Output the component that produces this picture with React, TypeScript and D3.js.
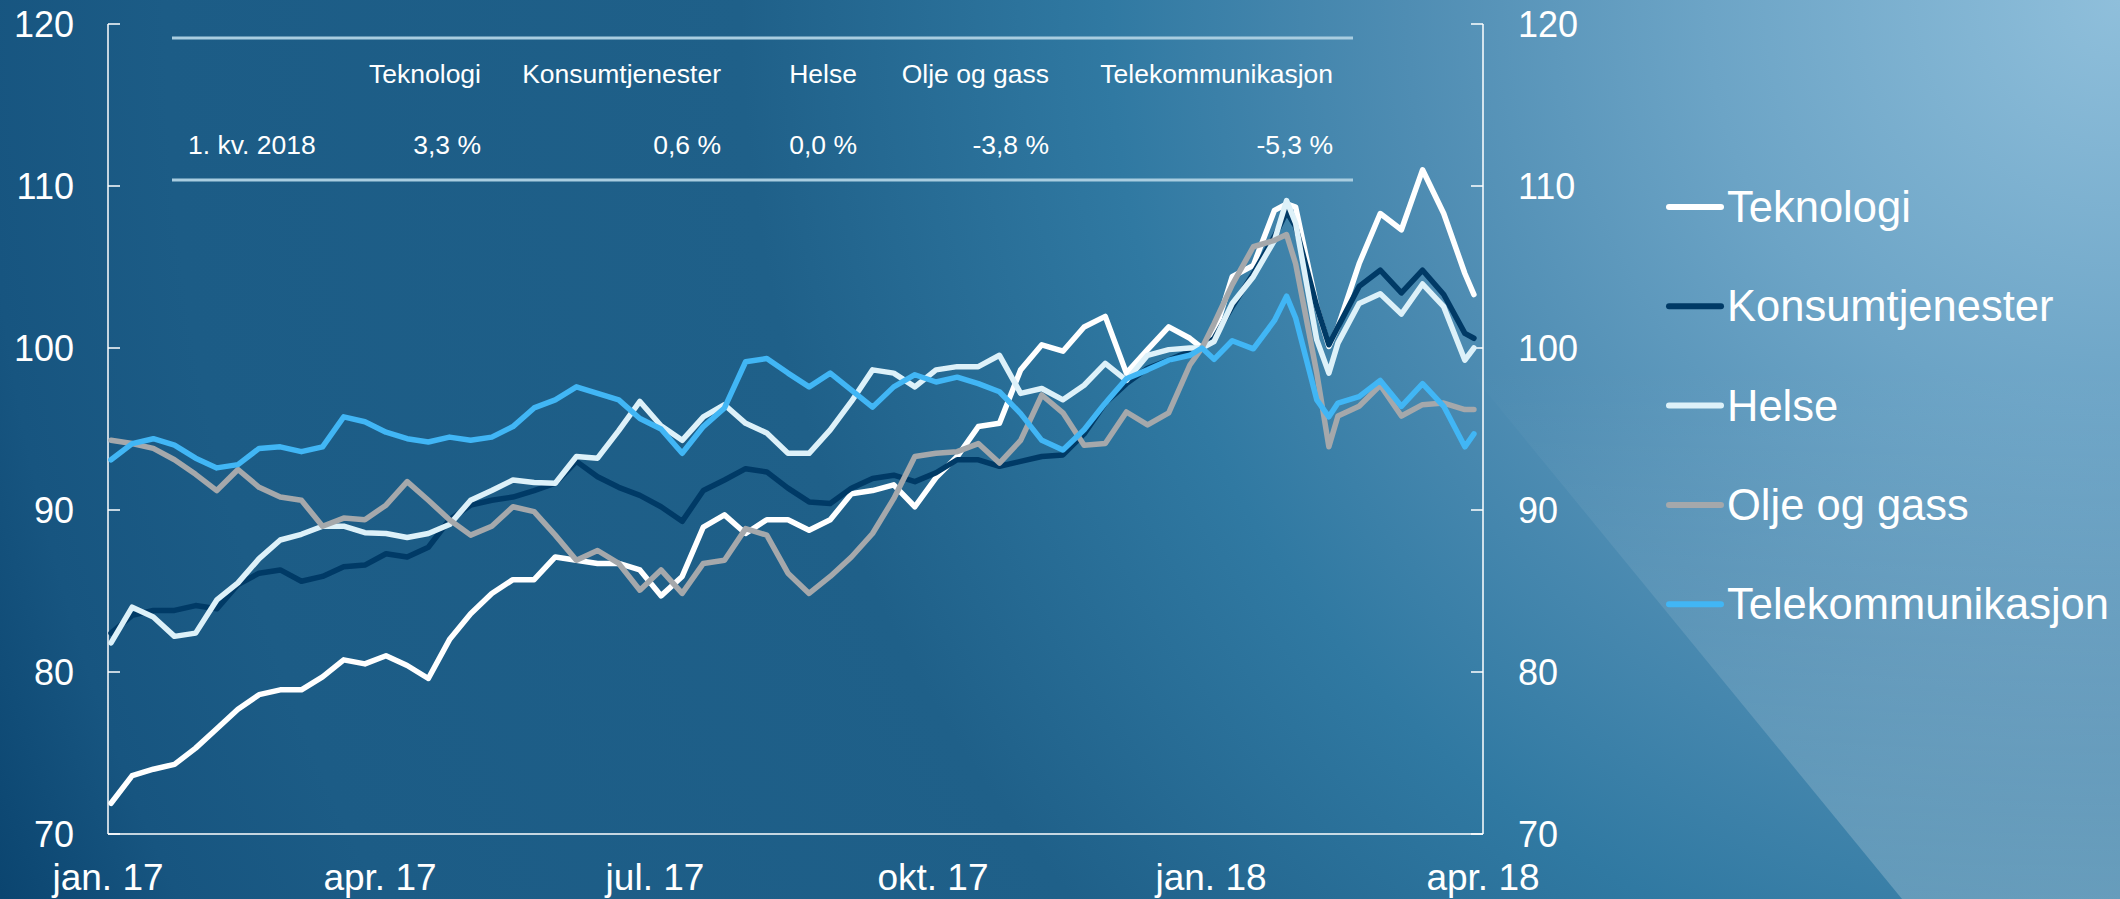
import React from 'react';
import * as d3 from 'd3';

const W = 2120;
const H = 899;

// weekly observations, indexed to 100 at end of 2017
const dates = [
  '2017-01-02', '2017-01-09', '2017-01-16', '2017-01-23', '2017-01-30',
  '2017-02-06', '2017-02-13', '2017-02-20', '2017-02-27',
  '2017-03-06', '2017-03-13', '2017-03-20', '2017-03-27',
  '2017-04-03', '2017-04-10', '2017-04-17', '2017-04-24',
  '2017-05-01', '2017-05-08', '2017-05-15', '2017-05-22', '2017-05-29',
  '2017-06-05', '2017-06-12', '2017-06-19', '2017-06-26',
  '2017-07-03', '2017-07-10', '2017-07-17', '2017-07-24', '2017-07-31',
  '2017-08-07', '2017-08-14', '2017-08-21', '2017-08-28',
  '2017-09-04', '2017-09-11', '2017-09-18', '2017-09-25',
  '2017-10-02', '2017-10-09', '2017-10-16', '2017-10-23', '2017-10-30',
  '2017-11-06', '2017-11-13', '2017-11-20', '2017-11-27',
  '2017-12-04', '2017-12-11', '2017-12-18', '2017-12-25', '2017-12-29',
  '2018-01-02', '2018-01-08', '2018-01-15', '2018-01-22', '2018-01-26', '2018-01-29',
  '2018-02-05', '2018-02-09', '2018-02-12', '2018-02-19', '2018-02-26',
  '2018-03-05', '2018-03-12', '2018-03-19', '2018-03-26', '2018-03-29',
];

const teknologi = [
  71.9, 73.6, 74.0, 74.3, 75.3, 76.5, 77.7, 78.6, 78.9, 78.9, 79.7, 80.75, 80.5,
  81.0, 80.4, 79.6, 82.0, 83.6, 84.85, 85.7, 85.7, 87.1, 86.9, 86.7, 86.7, 86.3,
  84.7, 85.9, 88.95, 89.7, 88.55, 89.4, 89.4, 88.75, 89.4, 91.0, 91.2, 91.55, 90.2,
  92.0, 93.3, 95.15, 95.35, 98.65, 100.2, 99.8, 101.3, 101.95, 98.45, 99.9, 101.3, 100.6, 100,
  100.8, 104.4, 105.1, 108.5, 108.9, 108.7, 102.55, 100.1, 101.3, 105.2, 108.3,
  107.3, 111.0, 108.3, 104.6, 103.3,
];

const konsumtjenester = [
  82.4, 83.5, 83.8, 83.8, 84.1, 83.9, 85.4, 86.1, 86.3, 85.6, 85.9, 86.5, 86.6,
  87.3, 87.1, 87.7, 89.4, 90.3, 90.6, 90.8, 91.2, 91.65, 93.0, 92.05, 91.4, 90.9,
  90.2, 89.3, 91.2, 91.85, 92.55, 92.35, 91.35, 90.5, 90.4, 91.35, 91.95, 92.15, 91.75,
  92.3, 93.1, 93.1, 92.7, 93.0, 93.3, 93.4, 94.7, 96.6, 97.8, 98.75, 99.25, 99.8, 100,
  100.6, 102.55, 104.6, 106.9, 108.4, 107.5, 102.55, 100.2, 101.3, 103.8, 104.8,
  103.4, 104.8, 103.3, 100.9, 100.6,
];

const helse = [
  81.8, 84.0, 83.4, 82.2, 82.4, 84.45, 85.5, 87.0, 88.15, 88.5, 89.0, 89.0, 88.6,
  88.55, 88.3, 88.55, 89.1, 90.6, 91.2, 91.85, 91.7, 91.65, 93.3, 93.2, 94.9, 96.7,
  95.2, 94.3, 95.75, 96.5, 95.35, 94.75, 93.5, 93.5, 94.95, 96.7, 98.65, 98.45, 97.6,
  98.65, 98.85, 98.85, 99.55, 97.2, 97.5, 96.8, 97.7, 99.05, 98.0, 99.55, 99.9, 100.0, 100,
  100.4, 102.75, 104.4, 106.65, 109.1, 107.7, 100.5, 98.45, 100.3, 102.75, 103.35,
  102.1, 103.95, 102.55, 99.25, 100.0,
];

const oljeOgGass = [
  94.3, 94.1, 93.8, 93.1, 92.2, 91.2, 92.5, 91.4, 90.8, 90.6, 89.0, 89.5, 89.4,
  90.3, 91.75, 90.6, 89.4, 88.45, 89.0, 90.2, 89.9, 88.45, 86.9, 87.5, 86.7, 85.05,
  86.3, 84.85, 86.7, 86.9, 88.85, 88.45, 86.1, 84.85, 85.9, 87.1, 88.55, 90.7, 93.3,
  93.5, 93.6, 94.1, 92.9, 94.3, 97.1, 96.0, 94.0, 94.1, 96.05, 95.25, 96.0, 98.95, 100,
  101.5, 103.9, 106.25, 106.65, 107.0, 105.2, 98.45, 93.9, 95.8, 96.4, 97.7,
  95.8, 96.5, 96.6, 96.2, 96.2,
];

const telekommunikasjon = [
  93.1, 94.1, 94.4, 94.0, 93.2, 92.6, 92.8, 93.8, 93.9, 93.6, 93.9, 95.75, 95.45,
  94.8, 94.4, 94.2, 94.5, 94.3, 94.5, 95.15, 96.3, 96.8, 97.6, 97.2, 96.8, 95.65,
  95.0, 93.5, 95.15, 96.3, 99.15, 99.35, 98.45, 97.6, 98.45, 97.4, 96.35, 97.6, 98.35,
  97.9, 98.2, 97.8, 97.3, 95.95, 94.3, 93.7, 94.95, 96.6, 98.1, 98.65, 99.25, 99.55, 100,
  99.3, 100.45, 99.95, 101.7, 103.2, 101.85, 96.8, 95.75, 96.6, 97.0, 98.0,
  96.4, 97.8, 96.4, 93.9, 94.7,
];

const seriesNames = ['Teknologi', 'Konsumtjenester', 'Helse', 'Olje og gass', 'Telekommunikasjon'];
const seriesColors = ['#ffffff', '#003a66', '#ddf1f9', '#a5a8ab', '#41b6f5'];
const seriesValues = [teknologi, konsumtjenester, helse, oljeOgGass, telekommunikasjon];

const yTicks = [70, 80, 90, 100, 110, 120];
const xTickDates = ['2017-01-01', '2017-04-01', '2017-07-01', '2017-10-01', '2018-01-01', '2018-04-01'];
const xTickLabels = ['jan. 17', 'apr. 17', 'jul. 17', 'okt. 17', 'jan. 18', 'apr. 18'];

const tableRowLabel = '1. kv. 2018';
const tableReturns = ['3,3 %', '0,6 %', '0,0 %', '-3,8 %', '-5,3 %'];

const FONT = '"Liberation Sans", Arial, sans-serif';

export default function App() {
  const parse = d3.timeParse('%Y-%m-%d');
  const left = 108;
  const right = 1483;
  const top = 24;
  const bottom = 834;

  const x = d3
    .scaleTime()
    .domain([parse('2017-01-01') as Date, parse('2018-04-01') as Date])
    .range([left, right]);
  const y = d3.scaleLinear().domain([70, 120]).range([bottom, top]);

  const parsedDates = dates.map((d) => parse(d) as Date);
  const line = d3
    .line<number>()
    .x((_, i) => x(parsedDates[i]))
    .y((v) => y(v));

  // table columns (right edge of text)
  const colRight = [481, 721, 857, 1049, 1333];

  return (
    <svg
      width={W}
      height={H}
      viewBox={`0 0 ${W} ${H}`}
      style={{ position: 'absolute', left: 0, top: 0, fontFamily: FONT }}
    >
      <defs>
        <radialGradient id="bg" gradientUnits="userSpaceOnUse" cx={W} cy={0} r={2300} fx={W} fy={0}>
          <stop offset="0" stopColor="#8fbfdb" />
          <stop offset="0.18" stopColor="#6ca4c6" />
          <stop offset="0.31" stopColor="#4f8db3" />
          <stop offset="0.44" stopColor="#3079a2" />
          <stop offset="0.6" stopColor="#1f6089" />
          <stop offset="0.85" stopColor="#1c5c86" />
          <stop offset="0.93" stopColor="#175580" />
          <stop offset="1" stopColor="#0b4570" />
        </radialGradient>
        <linearGradient id="sheen" gradientUnits="userSpaceOnUse" x1={0} y1={0} x2={0} y2={H}>
          <stop offset="0" stopColor="#ffffff" stopOpacity={0} />
          <stop offset="0.41" stopColor="#ffffff" stopOpacity={0} />
          <stop offset="1" stopColor="#ffffff" stopOpacity={0.22} />
        </linearGradient>
      </defs>

      <rect x={0} y={0} width={W} height={H} fill="url(#bg)" />
      <polygon points={`1165,0 ${W},0 ${W},${H} 1902,${H}`} fill="url(#sheen)" />

      {/* summary table */}
      <g fill="#ffffff" fontSize={26.5}>
        <line x1={172} x2={1353} y1={38} y2={38} stroke="#a9cde0" strokeWidth={3} />
        <line x1={172} x2={1353} y1={180} y2={180} stroke="#a9cde0" strokeWidth={3} />
        {seriesNames.map((n, i) => (
          <text key={n} x={colRight[i]} y={83} textAnchor="end">
            {n}
          </text>
        ))}
        <text x={188} y={154}>
          {tableRowLabel}
        </text>
        {tableReturns.map((v, i) => (
          <text key={i} x={colRight[i]} y={154} textAnchor="end">
            {v}
          </text>
        ))}
      </g>

      {/* axes */}
      <g stroke="#ffffff" strokeWidth={1.5} fill="none">
        <line x1={left} x2={left} y1={top} y2={bottom} />
        <line x1={right} x2={right} y1={top} y2={bottom} />
        <line x1={left} x2={right} y1={bottom} y2={bottom} />
        {yTicks.map((t) => (
          <g key={t}>
            <line x1={left} x2={left + 12} y1={y(t)} y2={y(t)} />
            <line x1={right - 12} x2={right} y1={y(t)} y2={y(t)} />
          </g>
        ))}
      </g>

      <g fill="#ffffff" fontSize={36}>
        {yTicks.map((t) => (
          <g key={t}>
            <text x={74} y={y(t) + 13} textAnchor="end">
              {t}
            </text>
            <text x={1518} y={y(t) + 13} textAnchor="start">
              {t}
            </text>
          </g>
        ))}
      </g>
      <g fill="#ffffff" fontSize={37}>
        {xTickDates.map((d, i) => (
          <text key={d} x={x(parse(d) as Date)} y={890} textAnchor="middle">
            {xTickLabels[i]}
          </text>
        ))}
      </g>

      {/* series */}
      <g fill="none" strokeWidth={5.5} strokeLinejoin="round" strokeLinecap="round">
        {seriesValues.map((vals, i) => (
          <path key={seriesNames[i]} d={line(vals) ?? ''} stroke={seriesColors[i]} />
        ))}
      </g>

      {/* legend */}
      <g fontSize={43.5} fill="#ffffff">
        {seriesNames.map((n, i) => {
          const ly = 207 + i * 99.3;
          return (
            <g key={n}>
              <line
                x1={1669}
                x2={1721}
                y1={ly}
                y2={ly}
                stroke={seriesColors[i]}
                strokeWidth={6}
                strokeLinecap="round"
              />
              <text x={1727} y={ly + 15}>
                {n}
              </text>
            </g>
          );
        })}
      </g>
    </svg>
  );
}
